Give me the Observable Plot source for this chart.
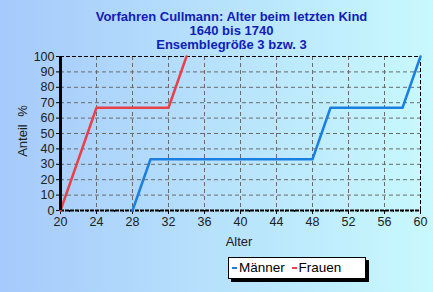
<!DOCTYPE html>
<html>
<head>
<meta charset="utf-8">
<script src="https://cdn.jsdelivr.net/npm/d3@7"></script>
<script src="https://cdn.jsdelivr.net/npm/@observablehq/plot@0.6"></script>
<style>
  html, body { margin: 0; padding: 0; }
  #wrap { position: relative; width: 433px; height: 292px; overflow: hidden;
    background: linear-gradient(to right, #a6cafb, #c8f9fd);
    font-family: "Liberation Sans", Arial, sans-serif; }
  #title { position: absolute; left: 0; width: 463px; top: 10px; text-align: center;
    font-weight: bold; font-size: 13px; line-height: 14px; color: #1020b8; }
  #ylab { position: absolute; left: 22px; top: 131px; transform: translate(-50%, -50%) rotate(-90deg);
    font-size: 13px; color: #202020; white-space: nowrap; word-spacing: 4px; }
  #xlab { position: absolute; left: 239px; top: 241px; transform: translate(-50%, -50%);
    font-size: 13px; color: #202020; }
  #legend { position: absolute; left: 228px; top: 257px; width: 136px; height: 20px;
    background: #fff; border: 1px solid #000; box-shadow: 3px 3px 0 #000;
    font-size: 13.5px; color: #000; line-height: 20px; white-space: nowrap; }
  #legend span.sw { display: inline-block; width: 5px; height: 2px; vertical-align: middle; margin: 0 2px 0 3px; }
  #chart { position: absolute; left: 0; top: 0; }
</style>
</head>
<body>
<div id="wrap">
  <div id="chart"></div>
  <div id="title">Vorfahren Cullmann: Alter beim letzten Kind<br>1640 bis 1740<br>Ensemblegröße 3 bzw. 3</div>
  <div id="ylab">Anteil %</div>
  <div id="xlab">Alter</div>
  <div id="legend"><span class="sw" style="background:#1a7fe0"></span>Männer <span class="sw" style="background:#e8414c"></span>Frauen</div>
</div>
<script>
const maennerAlter = [28, 30, 48, 50, 58, 60];
const maennerAnteil = [0, 33.3, 33.3, 66.7, 66.7, 100];
const frauenAlter = [20, 24, 32, 34];
const frauenAnteil = [0, 66.7, 66.7, 100];
const xTicks = [20, 24, 28, 32, 36, 40, 44, 48, 52, 56, 60];
const yTicks = [0, 10, 20, 30, 40, 50, 60, 70, 80, 90, 100];
const xMinor = d3.range(20, 61, 1);

const maenner = maennerAlter.map((a, i) => ({alter: a, anteil: maennerAnteil[i]}));
const frauen = frauenAlter.map((a, i) => ({alter: a, anteil: frauenAnteil[i]}));

const grid = {stroke: "#6a6a6a", strokeOpacity: 1, strokeDasharray: "4,3", strokeWidth: 1};

const chart = Plot.plot({
  width: 433, height: 292,
  marginLeft: 60, marginRight: 13, marginTop: 56, marginBottom: 82,
  x: {domain: [20, 60]},
  y: {domain: [0, 100]},
  style: {background: "transparent", fontFamily: "Liberation Sans, Arial, sans-serif", fontSize: "12.5px", color: "#202020"},
  marks: [
    Plot.ruleX(xTicks.slice(1, -1), grid),
    Plot.ruleY(yTicks.slice(1, -1), grid),
    Plot.ruleY([100], {stroke: "#000", strokeDasharray: "4,2", strokeWidth: 1}),
    Plot.ruleX([60], {stroke: "#000", strokeDasharray: "4,2", strokeWidth: 1}),
    Plot.ruleY([0], {stroke: "#000", strokeDasharray: "4,1", strokeWidth: 2}),
    Plot.axisX({ticks: xMinor, tickSize: 2, tickFormat: () => "", label: null, stroke: "#000"}),
    Plot.axisX({ticks: xTicks, tickSize: 4, tickPadding: 3, label: null, stroke: "#000"}),
    Plot.axisY({ticks: yTicks, tickSize: 4, tickPadding: 2, label: null, stroke: "#000"}),
    Plot.line(frauen, {x: "alter", y: "anteil", stroke: "#e8414c", strokeWidth: 2.5}),
    Plot.line(maenner, {x: "alter", y: "anteil", stroke: "#1a7fe0", strokeWidth: 2.5}),
    Plot.ruleX([20], {stroke: "#000", strokeWidth: 3})
  ]
});
document.getElementById("chart").appendChild(chart);
</script>
</body>
</html>
